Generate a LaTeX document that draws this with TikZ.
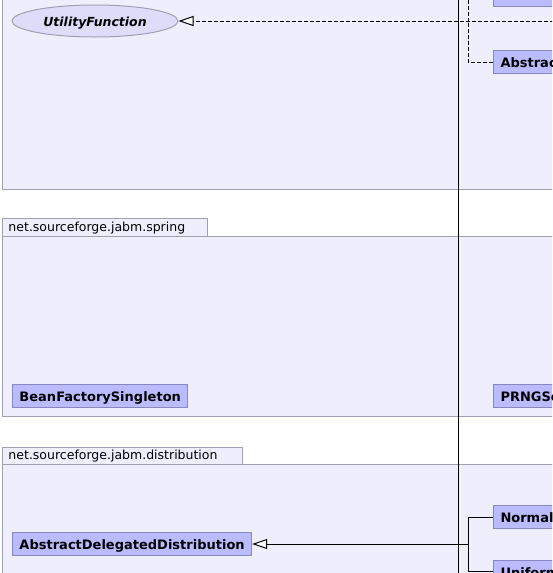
\documentclass[tikz,border=0pt]{standalone}
\usepackage{fontspec}
\setmainfont{DejaVu Sans}
\usetikzlibrary{arrows.meta,shapes.geometric}
\definecolor{pkgfill}{RGB}{238,238,252}
\definecolor{pkgline}{RGB}{160,160,178}
\definecolor{clsfill}{RGB}{187,187,255}
\definecolor{clsline}{RGB}{136,136,190}
\definecolor{ifcfill}{RGB}{221,221,250}
\begin{document}
\begin{tikzpicture}[x=1pt,y=-1pt,line width=1pt,
  pkg/.style={fill=pkgfill,draw=pkgline},
  tablabel/.style={anchor=base west,inner sep=0pt,font=\fontsize{12.5}{14}\selectfont},
  cls/.style={fill=clsfill,draw=clsline,anchor=west,inner xsep=7pt,inner ysep=0pt,
    minimum height=23pt,text height=11pt,text depth=0pt,font=\fontsize{13}{15}\selectfont\bfseries},
  ifc/.style={ellipse,fill=ifcfill,draw=pkgline,inner sep=0pt,minimum width=166pt,
    minimum height=32pt,text height=11pt,text depth=0pt,font=\fontsize{12.5}{14}\selectfont\bfseries\itshape},
  hollow/.style={-{Triangle[open,fill=white,length=15pt,width=10pt]}},
  realize/.style={dash pattern=on 4pt off 2pt}]
\clip(0,0)rectangle(552,573);
% package frames
\filldraw[pkg](2,-5)rectangle(560,189);
\filldraw[pkg](2,218)rectangle(207,236);
\filldraw[pkg](2,236)rectangle(560,416);
\filldraw[pkg](2,447)rectangle(242,464);
\filldraw[pkg](2,464)rectangle(560,580);
\node[tablabel](springlbl)at(8,231){net.sourceforge.jabm.spring};
\node[tablabel](distlbl)at(8,459.5){net.sourceforge.jabm.distribution};
% classes
\node[ifc](utility)at(95,21){UtilityFunction};
\node[cls,minimum width=80pt](topcls)at(493,-5.5){};
\node[cls](abstrutil)at(493,62){AbstractUtilityFunction};
\node[cls](beanfact)at(12,395.5){BeanFactorySingleton};
\node[cls](prngs)at(493,395.5){PRNGSeedGenerator};
\node[cls](abstdist)at(12,544){AbstractDelegatedDistribution};
\node[cls](normal)at(493,517){NormalDistribution};
\node[cls](uniform)at(493,571.5){UniformDistribution};
% connectors
\coordinate(trunktop)at(458,-5);
\coordinate(trunkbot)at(458,580);
\coordinate(farright)at(560,21);
\coordinate(topjoin)at(468,21);
\coordinate(distjoin)at(468,544);
\draw(trunktop)--(trunkbot);
\draw[realize,hollow](farright)--(utility);
\draw[realize](topcls.west)-|(topjoin);
\draw[realize](abstrutil.west)-|(topjoin);
\draw[hollow](distjoin)--(abstdist.east);
\draw(normal.west)-|(distjoin);
\draw(uniform.west)-|(distjoin);
\end{tikzpicture}
\end{document}
